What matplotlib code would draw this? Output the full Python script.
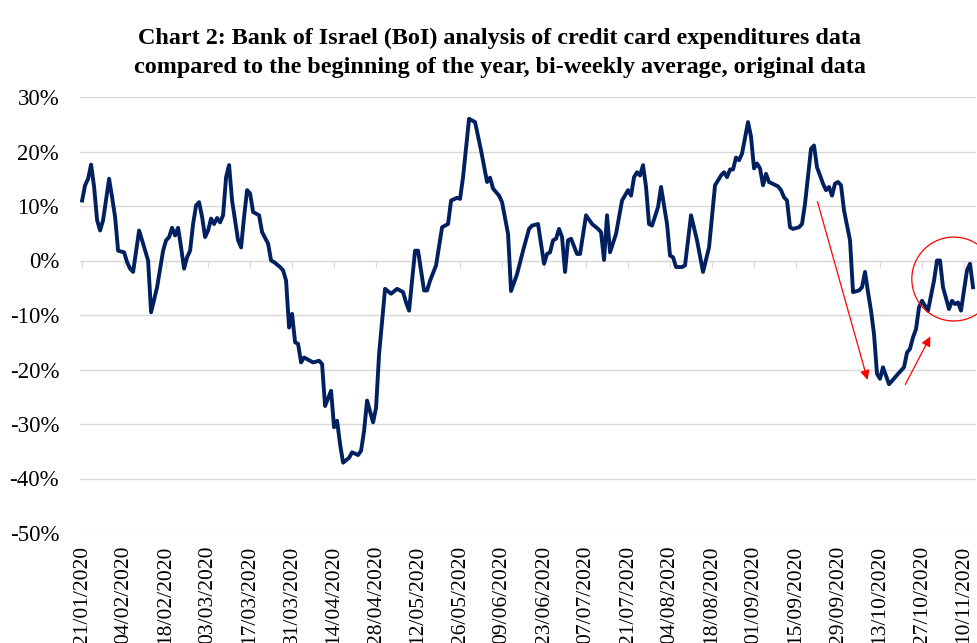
import datetime as dt
import matplotlib.pyplot as plt
from matplotlib.patches import Ellipse

# days after 21/01/2020 and the value (% vs beginning of year)
days = [0, 1, 2, 3, 4, 5, 6, 7, 9, 10, 11, 12, 14, 15, 16, 17, 19, 20, 22, 23,
        25, 27, 28, 29, 30, 31, 32, 33, 34, 35, 36, 37, 38, 39, 40, 41, 42, 43, 44, 45,
        46, 47, 48, 49, 50, 52, 53, 54, 55, 56, 57, 59, 60, 62, 63, 64, 66, 67, 68, 69,
        70, 71, 72, 73, 74, 75, 77, 79, 80, 81, 83, 84, 85, 86, 87, 89, 90, 92, 93, 94,
        95, 97, 98, 99, 101, 103, 105, 107, 108, 109, 111, 112, 114, 115, 116, 118, 120, 122, 123, 125,
        126, 127, 129, 131, 133, 135, 136, 137, 139, 140, 142, 143, 145, 147, 149, 150, 152, 154, 155, 156,
        157, 158, 159, 160, 161, 162, 163, 165, 166, 168, 170, 172, 173, 174, 175, 176, 178, 180, 182, 183,
        184, 185, 186, 187, 188, 189, 190, 192, 193, 195, 196, 197, 198, 200, 201, 203, 205, 207, 209, 211,
        213, 214, 215, 216, 217, 218, 219, 220, 222, 223, 224, 225, 226, 227, 228, 229, 232, 233, 234, 235,
        236, 237, 239, 240, 241, 243, 244, 245, 247, 248, 249, 250, 251, 252, 253, 254, 256, 257, 259, 260,
        261, 262, 263, 264, 265, 266, 267, 269, 270, 272, 274, 275, 276, 277, 278, 279, 280, 282, 284, 285,
        286, 287, 289, 290, 291, 292, 293, 295, 296, 297]
values = [11.0, 13.8, 15.0, 17.6, 13.5, 7.4, 5.5, 7.4, 15.0, 11.6, 8.0, 1.8, 1.5, -0.3, -1.5, -2.1, 5.5, 3.7, 0.0, -9.5,
          -4.9, 1.8, 3.7, 4.3, 6.0, 4.6, 6.0, 2.4, -1.5, 0.6, 1.8, 6.7, 10.1, 10.7, 8.0, 4.3, 5.5, 7.7, 6.7, 7.8,
          7.0, 8.3, 15.3, 17.5, 11.0, 3.7, 2.4, 8.0, 12.9, 12.3, 8.9, 8.3, 5.2, 3.1, 0.0, -0.3, -1.2, -1.8, -3.7, -12.3,
          -9.8, -15.0, -15.3, -18.7, -17.8, -18.1, -18.7, -18.4, -19.0, -26.7, -23.9, -30.6, -29.4, -33.7, -37.1, -36.2, -35.2, -35.7, -34.9, -31.3,
          -25.7, -29.7, -27.0, -17.2, -5.2, -6.1, -5.2, -5.8, -7.7, -9.2, 1.8, 1.8, -5.5, -5.5, -3.7, -0.9, 6.1, 6.7, 11.0, 11.5,
          11.3, 15.3, 26.0, 25.4, 20.2, 14.4, 15.2, 13.2, 11.9, 10.7, 4.9, -5.6, -2.5, 1.8, 5.8, 6.4, 6.7, -0.6, 1.2, 1.5,
          3.7, 4.0, 5.8, 4.3, -2.1, 3.7, 4.0, 1.2, 1.2, 8.3, 6.7, 5.8, 5.2, 0.1, 8.3, 1.5, 4.9, 11.0, 12.9, 11.9,
          15.3, 16.2, 15.6, 17.5, 13.5, 6.7, 6.4, 9.8, 13.5, 6.7, 0.9, 0.6, -1.2, -1.2, -0.9, 8.3, 3.7, -2.1, 2.4, 13.8,
          15.6, 16.2, 15.3, 16.7, 16.7, 18.9, 18.4, 19.6, 25.4, 22.7, 16.9, 17.8, 16.9, 13.8, 15.9, 14.4, 13.6, 12.9, 11.6, 11.0,
          6.1, 5.8, 6.1, 6.7, 10.4, 20.5, 21.1, 17.1, 14.1, 12.9, 13.5, 11.9, 14.1, 14.4, 13.8, 9.2, 3.7, -5.8, -5.5, -4.9,
          -2.1, -5.8, -9.2, -13.5, -20.8, -21.7, -19.6, -22.7, -22.1, -20.8, -19.6, -16.9, -16.2, -14.1, -12.6, -8.6, -7.4, -9.2, -3.7, 0.0,
          0.0, -4.9, -8.9, -7.4, -8.0, -7.7, -9.2, -1.8, -0.6, -4.9]

start = dt.date(2020, 1, 21)
tick_days = list(range(0, 295, 14))
tick_labels = [(start + dt.timedelta(days=d)).strftime('%d/%m/%Y') for d in tick_days]
y_ticks = [-50, -40, -30, -20, -10, 0, 10, 20, 30]

plt.rcParams['font.family'] = ['Liberation Serif', 'DejaVu Serif']

fig = plt.figure(figsize=(9.78, 6.43), dpi=100)
ax = fig.add_axes([80 / 978, 1 - 533 / 643, 896 / 978, 436 / 643])

ax.plot(days, values, color='#002060', lw=2.8, solid_joinstyle='round', zorder=3)

ax.set_xlim(-0.7, 298)
ax.set_ylim(-50, 30)
ax.set_yticks(y_ticks)
ax.set_yticklabels([f'{v}%' for v in y_ticks], fontsize=16.5)
ax.yaxis.grid(True, color='#d9d9d9', lw=1)
ax.set_axisbelow(True)

for s in ['left', 'right', 'top']:
    ax.spines[s].set_visible(False)
ax.spines['bottom'].set_position(('data', 0))
ax.spines['bottom'].set_color('#d9d9d9')
ax.set_xticks(tick_days)
ax.tick_params(axis='x', direction='out', length=5, color='#d9d9d9', labelbottom=False)
ax.tick_params(axis='y', length=0, pad=15)

sec = ax.secondary_xaxis('bottom')
sec.set_xticks(tick_days)
sec.set_xticklabels(tick_labels, rotation=90, fontsize=15.5, va='top', ha='center')
sec.tick_params(length=0, pad=9)
sec.spines['bottom'].set_visible(False)

# annotations
ax.annotate('', xy=(262.1, -22.4), xytext=(244.9, 11.3),
            arrowprops=dict(arrowstyle='-|>', color='red', lw=0.9, mutation_scale=14))
ax.annotate('', xy=(283.2, -13.5), xytext=(274.0, -23.2),
            arrowprops=dict(arrowstyle='-|>', color='red', lw=0.9, mutation_scale=14))
ax.add_patch(Ellipse((290.6, -3.4), 28, 15.4, fill=False, edgecolor='red', lw=0.9, clip_on=False, zorder=4))

fig.text(500 / 978, 1 - 53 / 643,
         'Chart 2: Bank of Israel (BoI) analysis of credit card expenditures data\n'
         'compared to the beginning of the year, bi-weekly average, original data',
         ha='center', va='center', fontsize=17.4, fontweight='bold', linespacing=1.45)

fig.savefig('out.png', dpi=100)
